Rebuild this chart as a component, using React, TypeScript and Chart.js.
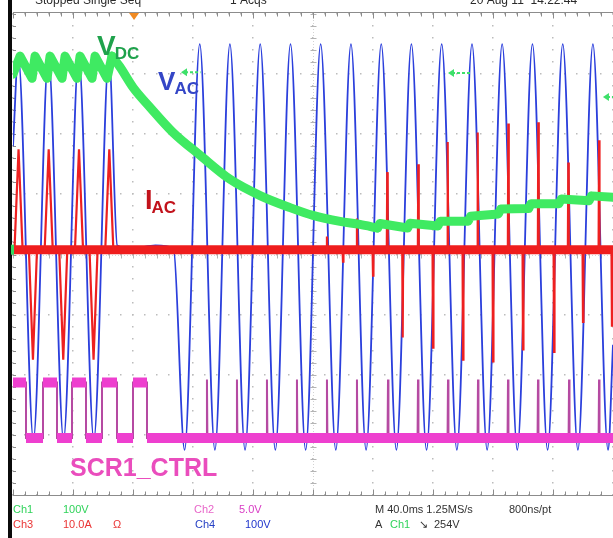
import React, { useEffect, useRef } from "react";
import { Chart, registerables } from "chart.js";

Chart.register(...registerables);

// Horizontal axis: time in ms (M 40.0 ms / division, 10 divisions)
const timeDivisions = [0, 40, 80, 120, 160, 200, 240, 280, 320, 360, 400];
// Vertical axis: screen divisions (8 divisions)
const levelDivisions = [-4, -3, -2, -1, 0, 1, 2, 3, 4];

// Ch4 – V_AC (extrema of each half cycle)
const vacTimes = [
  0, 3.5, 13.6, 23.6, 33.7, 43.8, 53.9, 64.0, 69.5, 80, 95, 107, 114.4,
  124.5, 134.6, 144.6, 154.7, 164.8, 174.9, 185.0, 195.1, 205.1, 215.2,
  225.3, 235.4, 245.5, 255.6, 265.6, 275.7, 285.8, 295.9, 306.0, 316.1,
  326.1, 336.2, 346.3, 356.4, 366.5, 376.6, 386.6, 396.7, 400,
];
const vacValues = [
  1.8, 3.3, -3.08, 3.3, -3.08, 3.3, -3.08, 3.3, 0.15, 0.1, 0.15, 0.1, -3.25,
  3.5, -3.25, 3.5, -3.25, 3.5, -3.25, 3.5, -3.25, 3.5, -3.25,
  3.5, -3.25, 3.5, -3.25, 3.5, -3.25, 3.5, -3.25, 3.5, -3.25,
  3.5, -3.25, 3.5, -3.25, 3.5, -3.25, 3.5, -3.25, -1.5,
];

// Ch1 – V_DC : ripple while the SCR conducts, discharge, and recharge
const vdcRippleTimes = [0, 4.7, 12.7, 14.7, 22.7, 24.7, 32.7, 34.7, 42.7, 44.7, 52.7, 54.7, 62.7, 66];
const vdcRippleValues = [3.0, 3.3, 2.93, 3.3, 2.93, 3.3, 2.93, 3.3, 2.93, 3.3, 2.93, 3.3, 2.93, 3.3];
const vdcDecayTimes = [66, 71.3, 80, 91.3, 106.7, 124.7, 144.7, 164.7, 184.7, 200, 218, 231.3, 243];
const vdcDecayValues = [3.3, 3.12, 2.78, 2.45, 2.03, 1.65, 1.25, 0.98, 0.78, 0.65, 0.55, 0.5, 0.44];
const vdcRechargeTimes = [
  243, 244.5, 263.1, 264.6, 283.3, 284.8, 303.5, 305, 323.6, 325.1, 343.8,
  345.3, 364, 365.5, 384.1, 385.6, 400,
];
const vdcRechargeValues = [
  0.44, 0.515, 0.44, 0.52, 0.475, 0.555, 0.555, 0.635, 0.675, 0.755, 0.765,
  0.845, 0.845, 0.925, 0.895, 0.975, 0.95,
];

// Ch3 – I_AC
const iacBaseline = 0.08;
const iacPulseTimes = [
  3.7, 13.3, 23.8, 33.5, 44.0, 53.7, 64.2, 209.3, 220, 229.3, 240, 249.5,
  259.8, 270.2, 280, 289.8, 300, 309.8, 320, 330.2, 340, 350.2, 360.7,
  370.2, 380, 390.7, 399.3,
];
const iacPulseValues = [
  1.75, -1.75, 1.75, -1.75, 1.75, -1.75, 1.75, 0.3, -0.12, 0.6, -0.35, 1.37,
  -1.38, 1.5, -1.55, 1.87, -1.75, 2.03, -1.78, 2.18, -1.58, 2.2, -1.62,
  1.53, -1.12, 1.9, -1.2,
];
const iacPulseHalfWidths = [
  2.7, 2.7, 2.7, 2.7, 2.7, 2.7, 2.7, 0.3, 0.3, 0.3, 0.3, 0.3, 0.3, 0.3, 0.3,
  0.3, 0.3, 0.3, 0.3, 0.3, 0.3, 0.3, 0.3, 0.3, 0.3, 0.3, 0.3,
];

// Ch2 – SCR1_CTRL
const scrHigh = -2.13;
const scrLow = -3.05;
const scrEdgeTimes = [8.67, 20, 29.33, 39.33, 48.67, 59.33, 69.33, 80, 89.33];
const scrSpikeTimes = [
  129.3, 149.3, 169.3, 189.3, 209.3, 229.3, 250, 270, 290, 310, 330, 350,
  370.7, 390.7,
];
const scrSpikeTop = -2.08;

// Annotations (data coordinates)
const labelMain = ["V", "V", "I", "SCR1_CTRL"];
const labelSub = ["DC", "AC", "AC", ""];
const labelTimes = [56, 96.7, 88, 38];
const labelLevels = [3.32, 2.73, 0.75, -3.68];
const labelColors = ["#1fa24c", "#3446c6", "#c2121b", "#ea4dbd"];
const labelSizes = [28, 26, 27, 25];

const markerStartTimes = [290, 393.3, 112];
const markerEndTimes = [306, 400, 125];
const markerLevels = [3.02, 2.62, 3.03];
const triggerTime = 80.7;

// Footer readout
const footerTexts = [
  "Ch1", "100V", "Ch2", "5.0V", "M 40.0ms 1.25MS/s", "800ns/pt",
  "Ch3", "10.0A", "\u03a9", "Ch4", "100V", "A", "Ch1", "\u2198", "254V",
];
const footerX = [13, 63, 194, 239, 375, 509, 13, 63, 113, 195, 245, 375, 390, 419, 434];
const footerRow = [0, 0, 0, 0, 0, 0, 1, 1, 1, 1, 1, 1, 1, 1, 1];
const footerColors = [
  "#2fd35a", "#2fd35a", "#e865c9", "#d83cc4", "#333333", "#333333",
  "#ea3434", "#ea3434", "#ea3434", "#2540c4", "#2036cc", "#333333",
  "#2fd35a", "#333333", "#333333",
];
const headerTexts = ["Stopped Single Seq", "1 Acqs", "20 Aug 11  14:22:44"];
const headerX = [35, 230, 470];

const pts = (ts: number[], vs: number[]) => ts.map((t, i) => ({ x: t, y: vs[i] }));

function buildPulses() {
  const out: any[] = [];
  iacPulseTimes.forEach((t, i) => {
    const w = iacPulseHalfWidths[i];
    out.push({ x: t - w, y: iacBaseline });
    out.push({ x: t, y: iacPulseValues[i] });
    out.push({ x: t + w, y: iacBaseline });
    out.push({ x: t + w, y: null });
  });
  return out;
}

function buildScrLine() {
  const out: any[] = [];
  let level = scrHigh;
  out.push({ x: 0, y: level });
  scrEdgeTimes.forEach((t) => {
    out.push({ x: t, y: level });
    level = level === scrHigh ? scrLow : scrHigh;
    out.push({ x: t, y: level });
  });
  scrSpikeTimes.forEach((t) => {
    out.push({ x: t - 0.3, y: scrLow });
    out.push({ x: t, y: scrSpikeTop });
    out.push({ x: t + 0.3, y: scrLow });
  });
  out.push({ x: 400, y: scrLow });
  return out;
}

function buildScrBand() {
  const out: any[] = [];
  let level = scrHigh;
  let start = 0;
  const edges = [...scrEdgeTimes, 400];
  edges.forEach((t) => {
    out.push({ x: start, y: level });
    out.push({ x: t, y: level });
    out.push({ x: t, y: null });
    level = level === scrHigh ? scrLow : scrHigh;
    start = t;
  });
  return out;
}

const scopePlugin = {
  id: "scopeDecor",
  beforeDatasetsDraw(chart: any) {
    const { ctx, chartArea: a, scales } = chart;
    const xs = scales.x;
    const ys = scales.y;
    const line = (x1: number, y1: number, x2: number, y2: number) => {
      ctx.beginPath();
      ctx.moveTo(x1, y1);
      ctx.lineTo(x2, y2);
      ctx.stroke();
    };
    ctx.save();
    // dotted graticule
    ctx.fillStyle = "#bcbcbc";
    timeDivisions.forEach((t) => {
      const px = Math.round(xs.getPixelForValue(t));
      for (let k = 0; k <= 40; k++) {
        const py = Math.round(ys.getPixelForValue(-4 + k * 0.2));
        ctx.fillRect(px - 1, py - 1, 1.5, 1.5);
      }
    });
    levelDivisions.forEach((v) => {
      const py = Math.round(ys.getPixelForValue(v));
      for (let k = 0; k <= 50; k++) {
        const px = Math.round(xs.getPixelForValue(k * 8));
        ctx.fillRect(px - 1, py - 1, 1.5, 1.5);
      }
    });
    // centre cross with ruler ticks
    const cx = Math.round(xs.getPixelForValue(200)) + 0.5;
    const cy = Math.round(ys.getPixelForValue(0)) + 0.5;
    ctx.strokeStyle = "#d2d2d2";
    ctx.lineWidth = 1;
    ctx.setLineDash([1, 2]);
    line(cx, a.top, cx, a.bottom);
    line(a.left, cy, a.right, cy);
    ctx.setLineDash([]);
    ctx.strokeStyle = "#b4b4b4";
    for (let k = 0; k <= 40; k++) {
      const py = Math.round(ys.getPixelForValue(-4 + k * 0.2)) + 0.5;
      line(cx - 3, py, cx + 3, py);
    }
    for (let k = 0; k <= 50; k++) {
      const px = Math.round(xs.getPixelForValue(k * 8)) + 0.5;
      line(px, cy - 3, px, cy + 3);
    }
    // frame top / bottom with ruler ticks
    ctx.strokeStyle = "#8c8c8c";
    const top = Math.round(a.top) - 1.5;
    const bot = Math.round(a.bottom) + 0.5;
    line(a.left, top, a.right, top);
    line(a.left, bot, a.right, bot);
    for (let k = 0; k <= 50; k++) {
      const px = Math.round(xs.getPixelForValue(k * 8)) + 0.5;
      const len = k % 5 === 0 ? 6 : 4;
      line(px, top, px, top + len);
      line(px, bot, px, bot - len);
    }
    for (let k = 0; k <= 40; k++) {
      const py = Math.round(ys.getPixelForValue(-4 + k * 0.2)) + 0.5;
      line(a.left, py, a.left + 3, py);
    }
    // left black edge of the screen
    ctx.fillStyle = "#0b0b0b";
    ctx.fillRect(a.left - 5, 0, 4, chart.height);
    ctx.restore();
  },
  afterDraw(chart: any) {
    const { ctx, chartArea: a, scales } = chart;
    const xs = scales.x;
    const ys = scales.y;
    ctx.save();
    const font = "'Liberation Sans', Arial, sans-serif";
    // trace labels
    labelMain.forEach((m, i) => {
      const px = xs.getPixelForValue(labelTimes[i]);
      const py = ys.getPixelForValue(labelLevels[i]);
      ctx.fillStyle = labelColors[i];
      ctx.textBaseline = "alphabetic";
      ctx.textAlign = "left";
      ctx.font = `bold ${labelSizes[i]}px ${font}`;
      ctx.fillText(m, px, py);
      if (labelSub[i]) {
        const w = ctx.measureText(m).width;
        ctx.font = `bold 17px ${font}`;
        ctx.fillText(labelSub[i], px + w - 1, py + 4);
      }
    });
    // channel cursor arrows
    ctx.strokeStyle = "#3ee06a";
    ctx.fillStyle = "#3ee06a";
    ctx.lineWidth = 2;
    markerStartTimes.forEach((t, i) => {
      const x1 = xs.getPixelForValue(t);
      const x2 = xs.getPixelForValue(markerEndTimes[i]);
      const py = ys.getPixelForValue(markerLevels[i]);
      ctx.setLineDash([3, 2]);
      ctx.beginPath();
      ctx.moveTo(x1 + 4, py);
      ctx.lineTo(x2, py);
      ctx.stroke();
      ctx.setLineDash([]);
      ctx.beginPath();
      ctx.moveTo(x1, py);
      ctx.lineTo(x1 + 6, py - 4);
      ctx.lineTo(x1 + 6, py + 4);
      ctx.closePath();
      ctx.fill();
    });
    // ground marker for Ch3 on the left edge
    ctx.fillStyle = "#35d860";
    ctx.fillRect(a.left - 2, ys.getPixelForValue(iacBaseline) - 5, 3, 10);
    // trigger position marker
    const tx = xs.getPixelForValue(triggerTime);
    ctx.fillStyle = "#f08a22";
    ctx.beginPath();
    ctx.moveTo(tx - 5, a.top - 1);
    ctx.lineTo(tx + 5, a.top - 1);
    ctx.lineTo(tx, a.top + 6);
    ctx.closePath();
    ctx.fill();
    // header (cut off at the top of the picture)
    ctx.fillStyle = "#2a2a2a";
    ctx.font = `12px ${font}`;
    headerTexts.forEach((s, i) => ctx.fillText(s, headerX[i], 4));
    // footer readout
    ctx.font = `11px ${font}`;
    footerTexts.forEach((s, i) => {
      ctx.fillStyle = footerColors[i];
      ctx.fillText(s, footerX[i], footerRow[i] === 0 ? 513 : 528);
    });
    ctx.restore();
  },
};

const greenTrace = {
  borderColor: "#3fea62",
  borderWidth: 9,
  borderJoinStyle: "round",
  borderCapStyle: "round",
  pointRadius: 0,
};

export default function App() {
  const ref = useRef<HTMLCanvasElement | null>(null);
  useEffect(() => {
    const canvas = ref.current;
    if (!canvas) return;
    const chart = new Chart(canvas, {
      type: "line",
      data: {
        datasets: [
          { label: "V_DC ripple", data: pts(vdcRippleTimes, vdcRippleValues), tension: 0, order: 0, ...greenTrace },
          { label: "V_DC discharge", data: pts(vdcDecayTimes, vdcDecayValues), cubicInterpolationMode: "monotone", order: 0, ...greenTrace },
          { label: "V_DC recharge", data: pts(vdcRechargeTimes, vdcRechargeValues), tension: 0, order: 0, ...greenTrace },
          {
            label: "I_AC pulses",
            data: buildPulses(),
            borderColor: "#ee2020",
            borderWidth: 2.2,
            tension: 0,
            spanGaps: false,
            pointRadius: 0,
            order: 1,
          },
          {
            label: "I_AC",
            data: [
              { x: 0, y: iacBaseline },
              { x: 400, y: iacBaseline },
            ],
            borderColor: "#ef1d1d",
            borderWidth: 9,
            pointRadius: 0,
            order: 2,
          },
          {
            label: "SCR1_CTRL band",
            data: buildScrBand(),
            borderColor: "#ee3fcf",
            borderWidth: 10,
            borderCapStyle: "butt",
            spanGaps: false,
            pointRadius: 0,
            order: 3,
          },
          {
            label: "SCR1_CTRL",
            data: buildScrLine(),
            borderColor: "#b54aa2",
            borderWidth: 2,
            tension: 0,
            pointRadius: 0,
            order: 4,
          },
          {
            label: "V_AC",
            data: pts(vacTimes, vacValues),
            borderColor: "#2b3fdc",
            borderWidth: 1.8,
            cubicInterpolationMode: "monotone",
            pointRadius: 0,
            order: 5,
          },
        ],
      },
      options: {
        animation: false,
        responsive: false,
        devicePixelRatio: 1,
        events: [],
        layout: { padding: { left: 13, right: 0, top: 14, bottom: 43 } },
        plugins: { legend: { display: false }, tooltip: { enabled: false } },
        scales: {
          x: { type: "linear", min: 0, max: 400, display: false },
          y: { type: "linear", min: -4, max: 4, display: false },
        },
      },
      plugins: [scopePlugin],
    });
    return () => chart.destroy();
  }, []);
  return (
    <div style={{ position: "absolute", left: 0, top: 0, width: 613, height: 538, background: "#ffffff" }}>
      <canvas ref={ref} width={613} height={538} style={{ display: "block" }} />
    </div>
  );
}
